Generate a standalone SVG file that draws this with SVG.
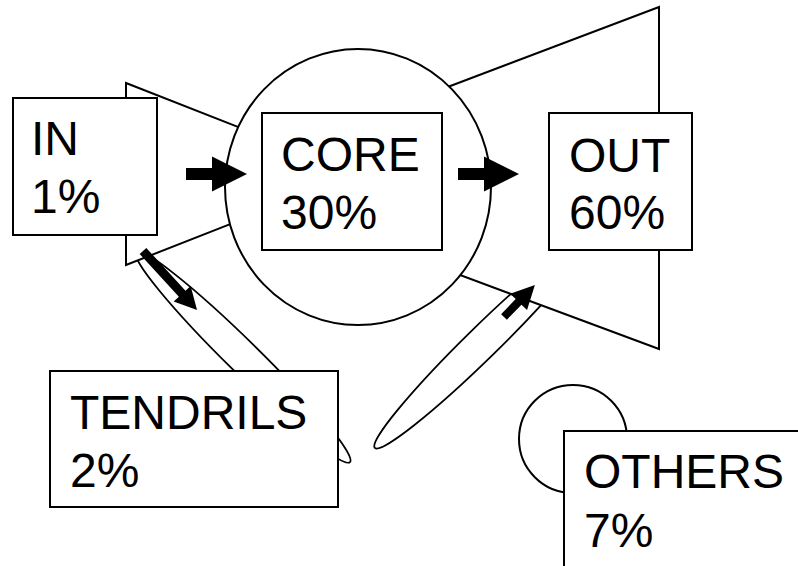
<svg xmlns="http://www.w3.org/2000/svg" width="798" height="566" viewBox="0 0 798 566">
  <style>
    .shape { fill: #ffffff; stroke: #000000; stroke-width: 2; }
    .tube { fill: #ffffff; stroke: #000000; stroke-width: 1.8; }
    .box { fill: #ffffff; stroke: #000000; stroke-width: 2; }
    .label { font-family: "Liberation Sans", Arial, sans-serif; font-size: 48px; fill: #000000; }
    .arrow { fill: #000000; stroke: none; }
  </style>
  <rect width="798" height="566" fill="#ffffff"/>

  <!-- tendril tubes -->
  <g id="tubes">
    <ellipse class="tube" cx="243" cy="357" rx="150" ry="16" transform="rotate(44.5 243 357)"/>
    <ellipse class="tube" cx="482" cy="343" rx="150" ry="16" transform="rotate(-44.4 482 343)"/>
  </g>

  <!-- OUT component: fan and box -->
  <g id="out">
    <polygon class="shape" points="358,121 659,7 659,349 358,237"/>
    <rect class="box" x="549" y="113" width="143" height="137"/>
    <text class="label" x="569" y="172">OUT</text>
    <text class="label" x="569" y="229">60%</text>
  </g>

  <!-- IN component: fan and box -->
  <g id="in">
    <polygon class="shape" points="126,83 358,174 126,265"/>
    <rect class="box" x="13" y="98" width="144" height="137"/>
    <text class="label" x="31" y="155">IN</text>
    <text class="label" x="31" y="213">1%</text>
  </g>

  <!-- CORE component: circle and box -->
  <g id="core">
    <ellipse class="shape" cx="358" cy="187" rx="133" ry="138"/>
    <rect class="box" x="262" y="113" width="180" height="137"/>
    <text class="label" x="281" y="171">CORE</text>
    <text class="label" x="281" y="229">30%</text>
  </g>

  <!-- TENDRILS box -->
  <g id="tendrils">
    <rect class="box" x="50" y="371" width="288" height="136"/>
    <text class="label" x="70" y="429">TENDRILS</text>
    <text class="label" x="70" y="487">2%</text>
  </g>

  <!-- OTHERS: small circle behind a box -->
  <g id="others">
    <circle class="shape" cx="573" cy="439" r="54"/>
    <rect class="box" x="564" y="431" width="250" height="150"/>
    <text class="label" x="584" y="488">OTHERS</text>
    <text class="label" x="584" y="547">7%</text>
  </g>

  <!-- flow arrows -->
  <g id="connectors">
    <path class="arrow" d="M186,168 H212 V156.5 L247,174 L212,191.5 V180 H186 Z"/>
    <path class="arrow" d="M458,168 H484 V156.5 L519,174 L484,191.5 V180 H458 Z"/>
    <path class="arrow" d="M0,-4.5 H58 V-11.5 L80,0 L58,11.5 V4.5 H0 Z" transform="translate(143,251) rotate(47.5)"/>
    <path class="arrow" d="M0,-4 H21 V-11.75 L44.5,0 L21,11.75 V4 H0 Z" transform="translate(504,317) rotate(-46)"/>
  </g>
</svg>
